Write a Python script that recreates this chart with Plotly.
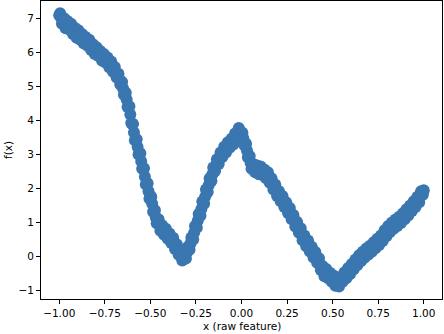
import plotly.graph_objects as go

x_vals = [
    -1.00, -0.99, -0.98, -0.97, -0.96, -0.95, -0.94, -0.93, -0.92, -0.91,
    -0.90, -0.89, -0.88, -0.87, -0.86, -0.85, -0.84, -0.83, -0.82, -0.81,
    -0.80, -0.79, -0.78, -0.77, -0.76, -0.75, -0.74, -0.73, -0.72, -0.71,
    -0.70, -0.69, -0.68, -0.67, -0.66, -0.65, -0.64, -0.63, -0.62, -0.61,
    -0.60, -0.59, -0.58, -0.57, -0.56, -0.55, -0.54, -0.53, -0.52, -0.51,
    -0.50, -0.49, -0.48, -0.47, -0.46, -0.45, -0.44, -0.43, -0.42, -0.41,
    -0.40, -0.39, -0.38, -0.37, -0.36, -0.35, -0.34, -0.33, -0.32, -0.31,
    -0.30, -0.29, -0.28, -0.27, -0.26, -0.25, -0.24, -0.23, -0.22, -0.21,
    -0.20, -0.19, -0.18, -0.17, -0.16, -0.15, -0.14, -0.13, -0.12, -0.11,
    -0.10, -0.09, -0.08, -0.07, -0.06, -0.05, -0.04, -0.03, -0.02, -0.01,
    0.00, 0.01, 0.02, 0.03, 0.04, 0.05, 0.06, 0.07, 0.08, 0.09,
    0.10, 0.11, 0.12, 0.13, 0.14, 0.15, 0.16, 0.17, 0.18, 0.19,
    0.20, 0.21, 0.22, 0.23, 0.24, 0.25, 0.26, 0.27, 0.28, 0.29,
    0.30, 0.31, 0.32, 0.33, 0.34, 0.35, 0.36, 0.37, 0.38, 0.39,
    0.40, 0.41, 0.42, 0.43, 0.44, 0.45, 0.46, 0.47, 0.48, 0.49,
    0.50, 0.51, 0.52, 0.53, 0.54, 0.55, 0.56, 0.57, 0.58, 0.59,
    0.60, 0.61, 0.62, 0.63, 0.64, 0.65, 0.66, 0.67, 0.68, 0.69,
    0.70, 0.71, 0.72, 0.73, 0.74, 0.75, 0.76, 0.77, 0.78, 0.79,
    0.80, 0.81, 0.82, 0.83, 0.84, 0.85, 0.86, 0.87, 0.88, 0.89,
    0.90, 0.91, 0.92, 0.93, 0.94, 0.95, 0.96, 0.97, 0.98, 0.99,
    1.00,
]
y_vals = [
    7.10, 7.02, 6.95, 6.98, 6.82, 6.80, 6.72, 6.75, 6.62, 6.60,
    6.52, 6.58, 6.45, 6.40, 6.38, 6.28, 6.32, 6.18, 6.15, 6.12,
    6.02, 6.05, 5.95, 5.88, 5.90, 5.78, 5.80, 5.70, 5.62, 5.60,
    5.48, 5.42, 5.30, 5.22, 5.12, 4.95, 4.78, 4.62, 4.42, 4.18,
    3.90, 3.65, 3.42, 3.22, 3.02, 2.80, 2.60, 2.35, 2.15, 1.92,
    1.72, 1.55, 1.30, 1.15, 1.05, 0.92, 0.85, 0.72, 0.78, 0.62,
    0.60, 0.55, 0.50, 0.38, 0.30, 0.22, 0.12, 0.02, -0.05, -0.02,
    0.12, 0.25, 0.38, 0.52, 0.70, 0.88, 1.05, 1.22, 1.40, 1.58,
    1.75, 1.95, 2.10, 2.25, 2.42, 2.58, 2.68, 2.78, 2.88, 3.00,
    3.08, 3.15, 3.20, 3.28, 3.32, 3.38, 3.45, 3.55, 3.65, 3.72,
    3.60, 3.48, 3.30, 3.12, 2.95, 2.75, 2.62, 2.60, 2.58, 2.55,
    2.52, 2.56, 2.48, 2.42, 2.40, 2.32, 2.25, 2.12, 2.05, 1.95,
    1.85, 1.78, 1.70, 1.62, 1.52, 1.45, 1.35, 1.28, 1.15, 1.05,
    0.95, 0.85, 0.78, 0.65, 0.55, 0.45, 0.40, 0.30, 0.22, 0.12,
    0.05, -0.02, -0.12, -0.22, -0.35, -0.45, -0.50, -0.48, -0.58, -0.62,
    -0.65, -0.72, -0.78, -0.80, -0.76, -0.65, -0.62, -0.55, -0.50, -0.42,
    -0.38, -0.30, -0.25, -0.18, -0.12, -0.05, 0.00, 0.05, 0.10, 0.15,
    0.18, 0.22, 0.28, 0.32, 0.38, 0.42, 0.48, 0.52, 0.62, 0.68,
    0.75, 0.82, 0.85, 0.92, 0.95, 1.00, 1.02, 1.08, 1.12, 1.18,
    1.25, 1.30, 1.35, 1.42, 1.48, 1.55, 1.60, 1.68, 1.75, 1.85,
    1.95,
]

# second pass: the scatter either side of the main band
x_extra = [
    -0.995, -0.985, -0.975, -0.965, -0.955, -0.945, -0.935, -0.925, -0.915, -0.905,
    -0.895, -0.885, -0.875, -0.865, -0.855, -0.845, -0.835, -0.825, -0.815, -0.805,
    -0.795, -0.785, -0.775, -0.765, -0.755, -0.745, -0.735, -0.725, -0.715, -0.705,
    -0.695, -0.685, -0.675, -0.665, -0.655, -0.645, -0.635, -0.625, -0.615, -0.605,
    -0.595, -0.585, -0.575, -0.565, -0.555, -0.545, -0.535, -0.525, -0.515, -0.505,
    -0.495, -0.485, -0.475, -0.465, -0.455, -0.445, -0.435, -0.425, -0.415, -0.405,
    -0.395, -0.385, -0.375, -0.365, -0.355, -0.345, -0.335, -0.325, -0.315, -0.305,
    -0.295, -0.285, -0.275, -0.265, -0.255, -0.245, -0.235, -0.225, -0.215, -0.205,
    -0.195, -0.185, -0.175, -0.165, -0.155, -0.145, -0.135, -0.125, -0.115, -0.105,
    -0.095, -0.085, -0.075, -0.065, -0.055, -0.045, -0.035, -0.025, -0.015, -0.005,
    0.005, 0.015, 0.025, 0.035, 0.045, 0.055, 0.065, 0.075, 0.085, 0.095,
    0.105, 0.115, 0.125, 0.135, 0.145, 0.155, 0.165, 0.175, 0.185, 0.195,
    0.205, 0.215, 0.225, 0.235, 0.245, 0.255, 0.265, 0.275, 0.285, 0.295,
    0.305, 0.315, 0.325, 0.335, 0.345, 0.355, 0.365, 0.375, 0.385, 0.395,
    0.405, 0.415, 0.425, 0.435, 0.445, 0.455, 0.465, 0.475, 0.485, 0.495,
    0.505, 0.515, 0.525, 0.535, 0.545, 0.555, 0.565, 0.575, 0.585, 0.595,
    0.605, 0.615, 0.625, 0.635, 0.645, 0.655, 0.665, 0.675, 0.685, 0.695,
    0.705, 0.715, 0.725, 0.735, 0.745, 0.755, 0.765, 0.775, 0.785, 0.795,
    0.805, 0.815, 0.825, 0.835, 0.845, 0.855, 0.865, 0.875, 0.885, 0.895,
    0.905, 0.915, 0.925, 0.935, 0.945, 0.955, 0.965, 0.975, 0.985, 0.995,
]
y_extra = [
    7.16, 6.85, 7.02, 6.72, 6.93, 6.68, 6.85, 6.55, 6.73, 6.44,
    6.66, 6.38, 6.55, 6.27, 6.46, 6.20, 6.38, 6.08, 6.25, 5.96,
    6.16, 5.90, 6.05, 5.76, 5.96, 5.70, 5.86, 5.56, 5.74, 5.44,
    5.58, 5.27, 5.38, 5.06, 5.14, 4.76, 4.82, 4.40, 4.42, 3.93,
    3.90, 3.42, 3.45, 3.00, 3.04, 2.58, 2.60, 2.12, 2.16, 1.70,
    1.76, 1.32, 1.36, 0.98, 1.10, 0.76, 0.92, 0.64, 0.82, 0.52,
    0.68, 0.40, 0.55, 0.22, 0.36, 0.05, 0.16, -0.12, 0.06, -0.06,
    0.28, 0.20, 0.56, 0.50, 0.90, 0.85, 1.25, 1.20, 1.62, 1.55,
    1.97, 1.90, 2.30, 2.22, 2.62, 2.52, 2.86, 2.72, 3.06, 2.93,
    3.23, 3.06, 3.36, 3.20, 3.47, 3.30, 3.62, 3.50, 3.78, 3.55,
    3.64, 3.28, 3.32, 2.92, 2.96, 2.58, 2.72, 2.48, 2.68, 2.42,
    2.65, 2.40, 2.56, 2.30, 2.48, 2.17, 2.30, 1.97, 2.12, 1.78,
    1.93, 1.63, 1.78, 1.46, 1.60, 1.28, 1.43, 1.10, 1.22, 0.88,
    1.02, 0.70, 0.83, 0.48, 0.62, 0.30, 0.47, 0.15, 0.29, -0.03,
    0.13, -0.18, -0.05, -0.40, -0.28, -0.58, -0.37, -0.64, -0.48, -0.74,
    -0.56, -0.86, -0.68, -0.88, -0.60, -0.74, -0.46, -0.64, -0.34, -0.52,
    -0.22, -0.38, -0.09, -0.26, 0.04, -0.14, 0.14, -0.04, 0.24, 0.05,
    0.32, 0.14, 0.42, 0.24, 0.52, 0.34, 0.62, 0.46, 0.77, 0.60,
    0.90, 0.72, 1.00, 0.82, 1.09, 0.90, 1.17, 0.99, 1.27, 1.10,
    1.39, 1.21, 1.50, 1.34, 1.63, 1.46, 1.76, 1.60, 1.92, 1.82,
]

x_ticks = [-1.00, -0.75, -0.50, -0.25, 0.00, 0.25, 0.50, 0.75, 1.00]
y_ticks = [-1, 0, 1, 2, 3, 4, 5, 6, 7]

FONT = "DejaVu Sans"

fig = go.Figure(go.Scatter(
    x=x_vals + x_extra, y=y_vals + y_extra,
    mode="markers",
    marker=dict(color="#3a76af", size=12, line=dict(width=0)),
    showlegend=False,
))

axis_common = dict(
    showline=True, mirror=True, linecolor="black", linewidth=1,
    showgrid=False, zeroline=False, automargin=False,
    ticks="outside", ticklen=4, tickcolor="black",
    tickfont=dict(family=FONT, size=10.5, color="black"),
)

fig.update_layout(
    width=444, height=334,
    paper_bgcolor="white", plot_bgcolor="white",
    margin=dict(l=41, r=2, t=1, b=35),
    xaxis=dict(axis_common, range=[-1.1, 1.1], tickvals=x_ticks, tickformat=".2f"),
    yaxis=dict(axis_common, range=[-1.25, 7.52], tickvals=y_ticks),
    annotations=[
        dict(text="x (raw feature)", xref="paper", yref="paper", x=0.5, y=0,
             yshift=-27, yanchor="middle", showarrow=False,
             font=dict(family=FONT, size=10.5, color="black")),
        dict(text="f(x)", xref="paper", yref="paper", x=0, y=0.5,
             xshift=-33, xanchor="center", textangle=-90, showarrow=False,
             font=dict(family=FONT, size=10.5, color="black")),
    ],
)

# the page's default body margin would shift the figure off the window
fig.write_html(
    "out.html",
    config={"displayModeBar": False},
    post_script="document.body.style.margin='0';",
)
